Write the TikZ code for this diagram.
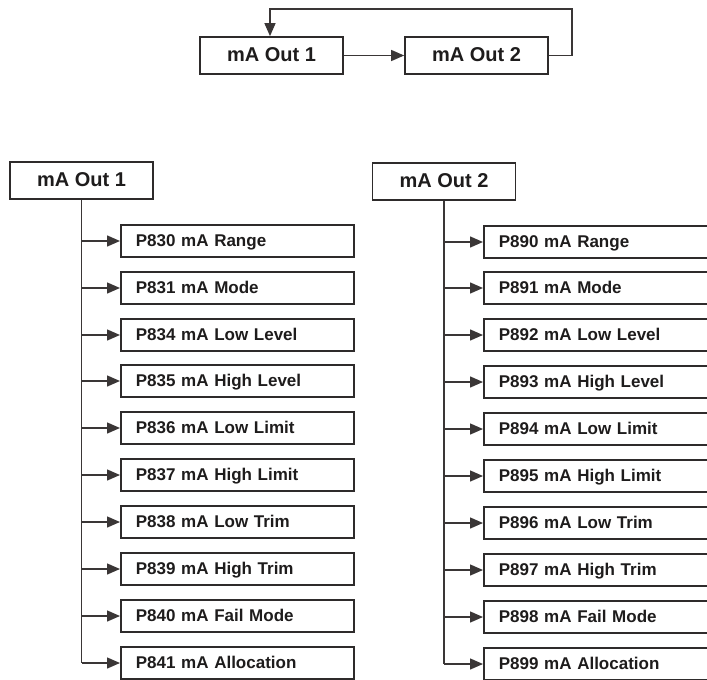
\documentclass[tikz,border=0pt]{standalone}
\usepackage{fontspec}
\setmainfont{Liberation Sans}
\usetikzlibrary{arrows.meta}
\definecolor{boxc}{HTML}{2E2B2B}
\definecolor{linec}{HTML}{3A3636}
\definecolor{txt}{HTML}{1E1C1C}
\begin{document}
\begin{tikzpicture}[x=1pt,y=-1pt,
  box/.style={draw=boxc, line width=1.7pt, fill=white, text=txt, inner sep=0pt,
    font=\bfseries\fontsize{17}{19}\selectfont, minimum height=32pt,
    text height=12.2pt, text depth=1.2pt},
  head/.style={box, font=\bfseries\fontsize{20}{22}\selectfont, minimum width=143pt, minimum height=37pt,
    text height=14.4pt, text depth=1.5pt},
  item/.style={box, anchor=west, inner xsep=15pt, text width=203pt, align=left},
  itemr/.style={box, anchor=west, inner xsep=15pt, text width=225pt, align=left},
  trunk/.style={draw=linec, line width=1.4pt},
  conn/.style={draw=linec, line width=1.4pt, -{Triangle[length=13pt,width=11pt]}}]
\useasboundingbox (0,0) rectangle (707,680);
\clip (0,0) rectangle (707,680);

% top loop
\node[head] (t1) at (271.5,55.5) {mA Out 1};
\node[head] (t2) at (476.5,55.5) {mA Out 2};
\coordinate (lp1) at (572,9);
\coordinate (lp2) at (270,9);
\draw[conn] (t1.east) -- (t2.west);
\draw[conn] (t2.east) -| (lp1) -- (lp2) -- (lp2 |- t1.north);

% left tree
\node[head] (h1) at (81.5,180.5) {mA Out 1};
\foreach \i/\y/\t in {1/241/P830 mA Range, 2/288/P831 mA Mode, 3/335/P834 mA Low Level,
  4/381/P835 mA High Level, 5/428/P836 mA Low Limit, 6/475/P837 mA High Limit,
  7/522/P838 mA Low Trim, 8/569/P839 mA High Trim, 9/616/P840 mA Fail Mode,
  10/663/P841 mA Allocation}{
  \node[item] (a\i) at (120,\y) {\t};
}
\draw[trunk] (h1.south) -- (h1.south |- a10.west);
\foreach \i in {1,...,10}{
  \draw[conn] (h1.south |- a\i.west) -- (a\i.west);
}

% right tree
\node[head] (h2) at (444,181.5) {mA Out 2};
\foreach \i/\y/\t in {1/242/P890 mA Range, 2/288/P891 mA Mode, 3/335/P892 mA Low Level,
  4/382/P893 mA High Level, 5/429/P894 mA Low Limit, 6/476/P895 mA High Limit,
  7/523/P896 mA Low Trim, 8/570/P897 mA High Trim, 9/617/P898 mA Fail Mode,
  10/664/P899 mA Allocation}{
  \node[itemr] (b\i) at (483,\y) {\t};
}
\draw[trunk] (h2.south) -- (h2.south |- b10.west);
\foreach \i in {1,...,10}{
  \draw[conn] (h2.south |- b\i.west) -- (b\i.west);
}
\end{tikzpicture}
\end{document}
